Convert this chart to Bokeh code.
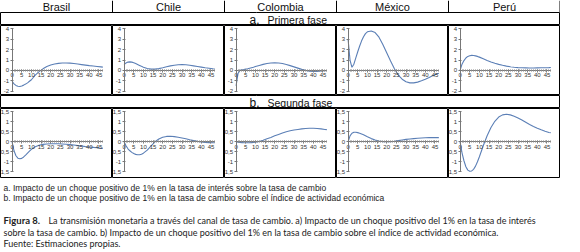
from bokeh.plotting import figure
from bokeh.layouts import column, row
from bokeh.models import Range1d, FixedTicker
from bokeh.core.properties import value
from bokeh.embed import file_html
from bokeh.resources import INLINE

# ---------------- data ----------------
countries = ["Brasil", "Chile", "Colombia", "México", "Perú"]
periods = [0, 1, 2, 3, 4, 5, 6, 7, 8, 9, 10, 12, 14, 16, 18, 20, 22, 24, 26, 28,
           30, 32, 34, 36, 38, 40, 42, 44, 46, 47]

# a. Primera fase
brasil_a = [-1.05, -1.3, -1.45, -1.53, -1.55, -1.5, -1.42, -1.32, -1.2, -1.05, -0.9, -0.45,
            -0.12, 0.15, 0.37, 0.52, 0.62, 0.68, 0.72, 0.72, 0.7, 0.66, 0.61, 0.56, 0.51,
            0.46, 0.42, 0.38, 0.34, 0.32]
chile_a = [0.55, 0.72, 0.8, 0.82, 0.8, 0.74, 0.66, 0.57, 0.48, 0.39, 0.31, 0.18, 0.12, 0.12,
           0.17, 0.25, 0.35, 0.44, 0.5, 0.55, 0.57, 0.55, 0.5, 0.44, 0.38, 0.32, 0.26, 0.21,
           0.16, 0.14]
colombia_a = [-1.5, -0.3, 0.0, 0.05, 0.08, 0.12, 0.16, 0.21, 0.26, 0.31, 0.37, 0.48, 0.58,
              0.66, 0.72, 0.74, 0.72, 0.66, 0.57, 0.46, 0.34, 0.22, 0.1, 0.0, -0.07, -0.1,
              -0.09, -0.06, -0.03, -0.02]
mexico_a = [3.0, 1.0, 0.3, 0.6, 1.2, 1.8, 2.35, 2.85, 3.25, 3.55, 3.72, 3.8, 3.65, 3.2, 2.5,
            1.7, 0.9, 0.15, -0.45, -0.85, -1.1, -1.2, -1.2, -1.13, -1.0, -0.85, -0.68, -0.5,
            -0.35, -0.28]
peru_a = [0.0, 0.6, 0.95, 1.2, 1.35, 1.42, 1.45, 1.43, 1.4, 1.35, 1.28, 1.12, 0.96, 0.82,
          0.69, 0.58, 0.49, 0.41, 0.35, 0.3, 0.27, 0.25, 0.24, 0.23, 0.23, 0.24, 0.25, 0.26,
          0.27, 0.28]

# b. Segunda fase
brasil_b = [0.0, -0.45, -0.7, -0.82, -0.85, -0.83, -0.76, -0.67, -0.57, -0.47, -0.38, -0.25,
            -0.17, -0.13, -0.11, -0.1, -0.1, -0.1, -0.11, -0.12, -0.14, -0.16, -0.19, -0.21,
            -0.24, -0.26, -0.28, -0.3, -0.32, -0.33]
chile_b = [0.0, -0.2, -0.35, -0.45, -0.53, -0.59, -0.63, -0.65, -0.65, -0.62, -0.57, -0.42,
           -0.2, 0.0, 0.14, 0.23, 0.27, 0.28, 0.26, 0.23, 0.19, 0.15, 0.1, 0.06, 0.02, -0.01,
           -0.03, -0.04, -0.05, -0.05]
colombia_b = [0.0, -0.02, -0.03, -0.04, -0.05, -0.05, -0.05, -0.05, -0.04, -0.03, -0.02,
              0.02, 0.08, 0.15, 0.22, 0.3, 0.37, 0.44, 0.5, 0.55, 0.59, 0.62, 0.65, 0.67,
              0.68, 0.68, 0.67, 0.65, 0.62, 0.61]
mexico_b = [0.0, 0.3, 0.43, 0.48, 0.48, 0.46, 0.43, 0.39, 0.35, 0.3, 0.25, 0.16, 0.09, 0.04,
            0.01, 0.0, 0.01, 0.03, 0.06, 0.09, 0.12, 0.14, 0.16, 0.18, 0.19, 0.2, 0.21, 0.21,
            0.21, 0.21]
peru_b = [0.0, -0.55, -0.95, -1.25, -1.42, -1.48, -1.46, -1.38, -1.22, -1.0, -0.75, -0.2,
          0.3, 0.72, 1.03, 1.24, 1.35, 1.38, 1.35, 1.28, 1.19, 1.09, 0.98, 0.87, 0.77, 0.68,
          0.6, 0.53, 0.47, 0.45]

x_ticks = [0, 5, 10, 15, 20, 25, 30, 35, 40, 45]
y_ticks_a = [-2, -1, 0, 1, 2, 3, 4]
y_labels_a = ["-2", "-1", "0", "1", "2", "3", "4"]
y_ticks_b = [-1.5, -1, -0.5, 0, 0.5, 1, 1.5]
y_labels_b = ["-1,5", "-1", "-0,5", "0", "0,5", "1", "1,5"]

phase_a = ("a.", "Primera fase")
phase_b = ("b.", "Segunda fase")
note_a = "a. Impacto de un choque positivo de 1% en la tasa de interés sobre la tasa de cambio"
note_b = "b. Impacto de un choque positivo de 1% en la tasa de cambio sobre el índice de actividad económica"
fig_label = "Figura 8."
caption_1 = ("La transmisión monetaria a través del canal de tasa de cambio. a) Impacto de un "
             "choque positivo del 1% en la tasa de interés")
caption_2 = ("sobre la tasa de cambio. b) Impacto de  un choque positivo del 1% en la tasa de "
             "cambio sobre el índice de actividad económica.")
source = "Fuente: Estimaciones propias."

# ---------------- layout ----------------
CW = 112
NC = 5
W = CW * NC
HEAD_H = 12
PHASE_H = 13
CELL_H = 70
TEXT_H = 72
LINE_COLOR = "#5b7fb6"
SANS = value("Liberation Sans")


def blank(w, h, outline=None):
    p = figure(width=w, height=h, x_range=Range1d(0, w), y_range=Range1d(h, 0),
               output_backend="svg", toolbar_location=None, min_border=0,
               x_axis_location=None, y_axis_location=None)
    p.grid.visible = False
    p.outline_line_color = outline
    p.background_fill_color = "white"
    p.border_fill_color = "white"
    return p


header = blank(W, HEAD_H)
header.text(x=[CW * (i + 0.5) for i in range(NC)], y=[6.5] * NC, text=countries,
            text_font=SANS, text_font_size="11px", text_align="center",
            text_baseline="middle", text_color="#111111")
header.segment(x0=[CW * i for i in range(1, NC)] + [W - 0.5], y0=[0] * NC,
               x1=[CW * i for i in range(1, NC)] + [W - 0.5], y1=[HEAD_H] * NC,
               line_color="black", line_width=1)


def phase_row(lbl):
    p = blank(W, PHASE_H, outline="black")
    p.text(x=[259], y=[7], text=[lbl[0]], text_font=SANS, text_font_size="12px",
           text_align="right", text_baseline="middle", text_color="#111111")
    p.text(x=[267], y=[7], text=[lbl[1]], text_font=SANS, text_font_size="10.5px",
           text_align="left", text_baseline="middle", text_color="#111111")
    return p


def cell(ys, yr, yticks, ylabels, ybounds):
    p = figure(width=CW, height=CELL_H, x_range=Range1d(-6, 52), y_range=Range1d(*yr),
               output_backend="svg", toolbar_location=None, min_border=0)
    p.grid.visible = False
    p.outline_line_color = "black"
    p.background_fill_color = "white"
    p.border_fill_color = "white"
    p.xaxis.fixed_location = 0
    p.yaxis.fixed_location = 0
    p.xaxis.ticker = FixedTicker(ticks=x_ticks, minor_ticks=list(range(0, 48)))
    p.yaxis.ticker = FixedTicker(ticks=yticks)
    p.yaxis.major_label_overrides = {t: l for t, l in zip(yticks, ylabels)}
    p.xaxis.bounds = (0, 47)
    p.yaxis.bounds = ybounds
    for ax in (p.xaxis, p.yaxis):
        ax.axis_line_color = "#777777"
        ax.axis_line_width = 1
        ax.major_tick_line_color = "#777777"
        ax.major_label_text_font = "Liberation Sans"
        ax.major_label_text_font_size = "6px"
        ax.major_label_text_color = "#333333"
        ax.major_label_standoff = 1
        ax.major_tick_in = 1
        ax.major_tick_out = 2
    p.xaxis.minor_tick_line_color = "#888888"
    p.xaxis.minor_tick_in = 1
    p.xaxis.minor_tick_out = 1
    p.yaxis.minor_tick_line_color = None
    p.line(periods, ys, line_color=LINE_COLOR, line_width=1.1)
    return p


yr_a = (-2.42, 4.33)
yr_b = (-1.84, 1.67)
row_a = row([cell(s, yr_a, y_ticks_a, y_labels_a, (-2, 4))
             for s in (brasil_a, chile_a, colombia_a, mexico_a, peru_a)], spacing=0)
row_b = row([cell(s, yr_b, y_ticks_b, y_labels_b, (-1.5, 1.5))
             for s in (brasil_b, chile_b, colombia_b, mexico_b, peru_b)], spacing=0)

notes = blank(W, TEXT_H)
notes.text(x=[3, 3], y=[9, 19], text=[note_a, note_b], text_font=SANS,
           text_font_size="8.5px", text_baseline="middle", text_color="#222222")
notes.text(x=[3], y=[42], text=[fig_label], text_font=value("Lato"), text_font_style="bold",
           text_font_size="9.5px", text_baseline="middle", text_color="#222222")
notes.text(x=[48, 3, 3], y=[42, 54, 65], text=[caption_1, caption_2, source],
           text_font=value("Lato"), text_font_size="9px", text_baseline="middle",
           text_color="#222222")

layout = column([header, phase_row(phase_a), row_a, phase_row(phase_b), row_b, notes],
                spacing=0)

open("out.html", "w").write(file_html(layout, INLINE))
